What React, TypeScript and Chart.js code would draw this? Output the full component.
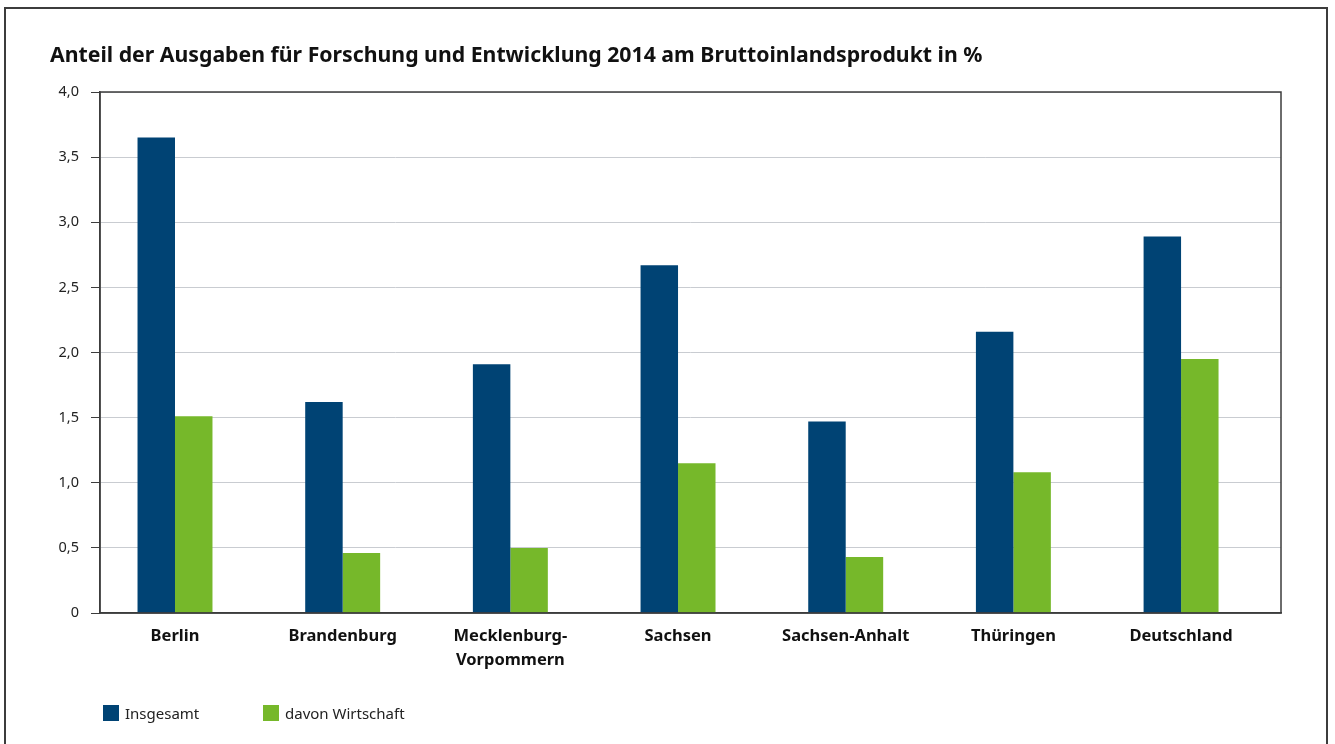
import React, { useEffect, useRef } from "react";
import { Chart, registerables } from "chart.js";

Chart.register(...registerables);

const TITLE = "Anteil der Ausgaben für Forschung und Entwicklung 2014 am Bruttoinlandsprodukt in %";
const CATEGORIES: (string | string[])[] = [
  "Berlin",
  "Brandenburg",
  ["Mecklenburg-", "Vorpommern"],
  "Sachsen",
  "Sachsen-Anhalt",
  "Thüringen",
  "Deutschland",
];
const SERIES_NAMES = ["Insgesamt", "davon Wirtschaft"];
const INSGESAMT = [3.65, 1.62, 1.91, 2.67, 1.47, 2.16, 2.89];
const WIRTSCHAFT = [1.51, 0.46, 0.5, 1.15, 0.43, 1.08, 1.95];
const Y_TICKS = [0, 0.5, 1, 1.5, 2, 2.5, 3, 3.5, 4];
const COLORS = ["#004374", "#76b82a"];

const FONT = "'Noto Sans', sans-serif";

const boxPlugin = {
  id: "plotBox",
  afterDraw(chart: any) {
    const { ctx, chartArea } = chart;
    ctx.save();
    ctx.strokeStyle = "#3c3c3c";
    ctx.lineWidth = 1.5;
    ctx.strokeRect(chartArea.left, chartArea.top, chartArea.right - chartArea.left, chartArea.bottom - chartArea.top);
    ctx.restore();
  },
};

export default function App() {
  const ref = useRef<HTMLCanvasElement | null>(null);

  useEffect(() => {
    if (!ref.current) return;
    const series = [INSGESAMT, WIRTSCHAFT];
    const chart = new Chart(ref.current, {
      type: "bar",
      data: {
        datasets: series.map((vals, s) => ({
          label: SERIES_NAMES[s],
          data: vals.map((v, i) => ({ x: i, y: v })),
          backgroundColor: COLORS[s],
          borderWidth: 0,
          categoryPercentage: 0.447,
          barPercentage: 1,
        })),
      },
      options: {
        responsive: false,
        animation: false,
        devicePixelRatio: 1,
        layout: { padding: { left: 50, right: 54, top: 0, bottom: 0 } },
        plugins: {
          legend: { display: false },
          tooltip: { enabled: false },
          title: {
            display: true,
            text: TITLE,
            align: "start",
            color: "#111",
            font: { family: FONT, size: 21.25, weight: "bold", lineHeight: 1.2 },
            padding: { top: 43, bottom: 23.5 },
          },
        },
        scales: {
          x: {
            type: "linear",
            offset: false,
            min: -0.4473,
            max: 6.596,
            afterBuildTicks: (s: any) => {
              s.ticks = CATEGORIES.map((_, i) => ({ value: i }));
            },
            afterFit: (s: any) => {
              s.height = 131;
            },
            grid: { display: false, drawTicks: false },
            border: { display: true, color: "#3c3c3c", width: 1.5 },
            ticks: {
              autoSkip: false,
              maxRotation: 0,
              padding: 11,
              color: "#111",
              font: { family: FONT, size: 16.5, weight: "bold", lineHeight: 1.45 },
              callback: (v: any) => CATEGORIES[v] as any,
            },
          },
          y: {
            min: 0,
            max: 4,
            afterBuildTicks: (s: any) => {
              s.ticks = Y_TICKS.map((v) => ({ value: v }));
            },
            afterFit: (s: any) => {
              s.width = 50;
            },
            grid: { color: "#c9ccd1", lineWidth: 1, tickColor: "#3c3c3c", tickLength: 9 },
            border: { display: true, color: "#3c3c3c", width: 1.5 },
            ticks: {
              padding: 12,
              color: "#222",
              font: { family: FONT, size: 14.5 },
              callback: (v: any) => (v === 0 ? "0" : Number(v).toFixed(1).replace(".", ",")),
            },
          },
        },
      },
      plugins: [boxPlugin],
    } as any);
    return () => chart.destroy();
  }, []);

  return (
    <div style={{ position: "fixed", left: 0, top: 0, width: 1335, height: 744, overflow: "hidden", background: "#fff" }}>
      <div
        style={{
          position: "absolute",
          left: 4,
          top: 7,
          width: 1320,
          height: 800,
          border: "2px solid #3c3c3c",
        }}
      />
      <canvas ref={ref} width={1335} height={744} style={{ position: "absolute", left: 0, top: 0 }} />
      {SERIES_NAMES.map((name, s) => (
        <div
          key={name}
          style={{
            position: "absolute",
            left: s === 0 ? 103 : 263,
            top: 703,
            display: "flex",
            alignItems: "center",
            fontFamily: FONT,
            fontSize: 15,
            color: "#222",
            whiteSpace: "nowrap",
          }}
        >
          <span style={{ display: "inline-block", width: 16, height: 16, background: COLORS[s], marginRight: 6 }} />
          <span>{name}</span>
        </div>
      ))}
    </div>
  );
}
